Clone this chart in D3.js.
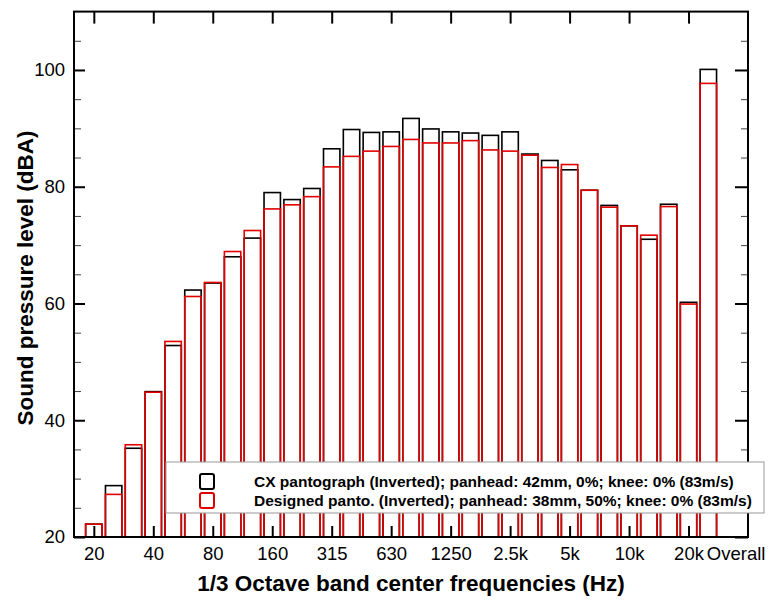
<!DOCTYPE html>
<html>
<head>
<meta charset="utf-8">
<script src="https://cdn.jsdelivr.net/npm/d3@7"></script>
<style>
  html, body { margin: 0; padding: 0; background: #fff; }
  svg { display: block; font-family: "Liberation Sans", Arial, sans-serif; }
</style>
</head>
<body>
<svg id="chart" width="774" height="601"></svg>
<script>
// ---- data ----
const categories = ["20","25","31.5","40","50","63","80","100","125","160","200","250","315","400","500","630","800","1000","1250","1600","2000","2500","3150","4000","5000","6300","8000","10k","12.5k","16k","20k","Overall"];
const cxPantograph = [22.2, 28.8, 35.2, 44.9, 52.8, 62.3, 63.5, 68.0, 71.2, 79.0, 77.8, 79.7, 86.5, 89.8, 89.3, 89.4, 91.7, 89.9, 89.4, 89.2, 88.8, 89.4, 85.6, 84.5, 82.9, 79.4, 76.8, 73.3, 71.0, 77.0, 60.2, 100.1];
const designedPanto = [22.2, 27.3, 35.8, 44.8, 53.5, 61.2, 63.6, 68.9, 72.5, 76.2, 76.9, 78.3, 83.4, 85.2, 86.1, 86.9, 88.1, 87.5, 87.5, 87.9, 86.3, 86.1, 85.4, 83.3, 83.8, 79.4, 76.5, 73.3, 71.7, 76.6, 59.9, 97.7];
const xTickIndex = [0, 3, 6, 9, 12, 15, 18, 21, 24, 27, 30];
const xTickLabels = ["20","40","80","160","315","630","1250","2.5k","5k","10k","20k"];
const overallLabel = "Overall";
const yMajorTicks = [20, 40, 60, 80, 100];
const yMinorTicks = [25, 30, 35, 45, 50, 55, 65, 70, 75, 85, 90, 95, 105];
const legendLabels = [
  "CX pantograph (Inverted); panhead: 42mm, 0%; knee: 0% (83m/s)",
  "Designed panto. (Inverted); panhead: 38mm, 50%; knee: 0% (83m/s)"
];
const seriesColors = ["#000000", "#e00000"];

// ---- layout ----
const L = 74, R = 748, T = 11.6, B = 537;
const svg = d3.select("#chart");
const x = d3.scaleLinear().domain([-1, 33]).range([L, R]);
const y = d3.scaleLinear().domain([20, 110]).range([B, T]);
const barW = 16.4;

const series = [cxPantograph, designedPanto];
series.forEach((vals, si) => {
  svg.append("g").selectAll("rect").data(vals).join("rect")
    .attr("x", (d, i) => x(i) - barW / 2)
    .attr("y", d => y(d))
    .attr("width", barW)
    .attr("height", d => y(20) - y(d))
    .attr("fill", "none")
    .attr("stroke", seriesColors[si])
    .attr("stroke-width", 1.6);
});

// ---- axes ----
function styleAxis(g, w, col) {
  g.select(".domain").remove();
  g.selectAll(".tick line").attr("stroke", col).attr("stroke-width", w);
  g.selectAll(".tick text").attr("fill", "#000").style("font-size", "18.5px")
    .style("font-family", "'Liberation Sans', Arial, sans-serif");
}
// bottom
svg.append("g").attr("transform", `translate(0,${B})`)
  .call(d3.axisBottom(x).tickValues(xTickIndex).tickSize(-11).tickPadding(9.5)
    .tickFormat((d, i) => xTickLabels[i]))
  .call(g => styleAxis(g, 2, "#000"));
svg.append("text").attr("x", x(31) - 1.5).attr("y", B + 9.5).attr("dy", "0.71em")
  .attr("text-anchor", "start").style("font-size", "18.5px").text(overallLabel);
// top
svg.append("g").attr("transform", `translate(0,${T})`)
  .call(d3.axisTop(x).tickValues(xTickIndex).tickSize(-12).tickFormat(""))
  .call(g => styleAxis(g, 2, "#000"));
// left
svg.append("g").attr("transform", `translate(${L},0)`)
  .call(d3.axisLeft(y).tickValues(yMajorTicks).tickSize(-11).tickPadding(9).tickFormat(d3.format("d")))
  .call(g => styleAxis(g, 2, "#000"));
svg.append("g").attr("transform", `translate(${L},0)`)
  .call(d3.axisLeft(y).tickValues(yMinorTicks).tickSize(-7).tickFormat(""))
  .call(g => styleAxis(g, 1, "#444"));
// right
svg.append("g").attr("transform", `translate(${R},0)`)
  .call(d3.axisRight(y).tickValues(yMajorTicks).tickSize(-13).tickFormat(""))
  .call(g => styleAxis(g, 2, "#000"));
svg.append("g").attr("transform", `translate(${R},0)`)
  .call(d3.axisRight(y).tickValues(yMinorTicks).tickSize(-7).tickFormat(""))
  .call(g => styleAxis(g, 1, "#444"));

// frame
svg.append("rect").attr("x", L).attr("y", T).attr("width", R - L).attr("height", B - T)
  .attr("fill", "none").attr("stroke", "#000").attr("stroke-width", 2);

// titles
svg.append("text").attr("x", (L + R) / 2).attr("y", 591)
  .attr("text-anchor", "middle").style("font-size", "22.5px").style("font-weight", "bold")
  .text("1/3 Octave band center frequencies (Hz)");
svg.append("text").attr("transform", `translate(33,278) rotate(-90)`)
  .attr("text-anchor", "middle").style("font-size", "22.5px").style("font-weight", "bold")
  .text("Sound pressure level (dBA)");

// legend
const lg = svg.append("g");
lg.append("rect").attr("x", 166).attr("y", 462).attr("width", 598).attr("height", 51)
  .attr("fill", "#fff").attr("stroke", "#999").attr("stroke-width", 1);
legendLabels.forEach((t, i) => {
  lg.append("rect").attr("x", 200).attr("y", 474 + i * 19).attr("width", 14).attr("height", 15)
    .attr("rx", 2).attr("fill", "none").attr("stroke", seriesColors[i]).attr("stroke-width", 2);
  lg.append("text").attr("x", 254).attr("y", 486.5 + i * 19.5)
    .style("font-size", "15.5px").style("font-weight", "bold").text(t);
});
</script>
</body>
</html>
